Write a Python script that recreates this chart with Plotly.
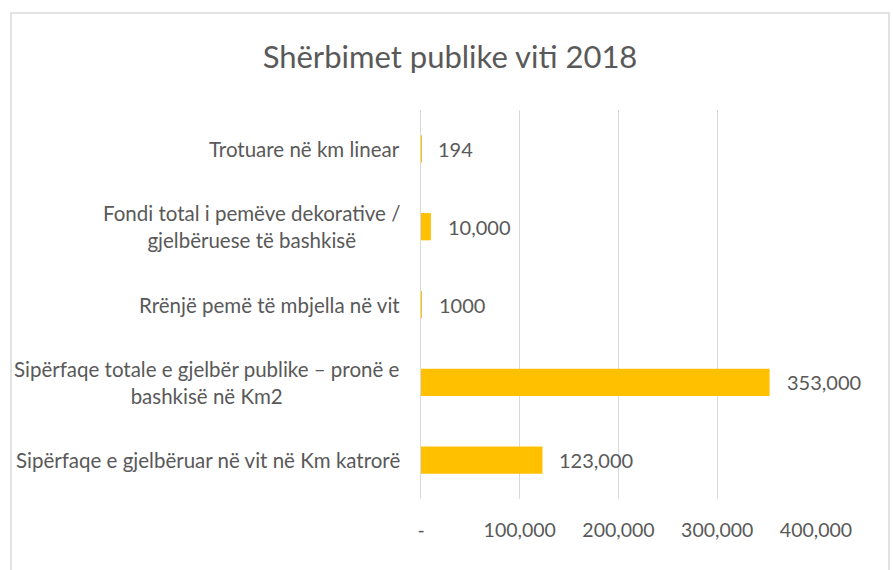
import plotly.graph_objects as go

# ---- data ----
categories = [
    "Trotuare në km linear",
    "Fondi total i pemëve dekorative /<br>gjelbëruese të bashkisë",
    "Rrënjë pemë të mbjella në vit",
    "Sipërfaqe totale e gjelbër publike – pronë e<br>bashkisë në Km2",
    "Sipërfaqe e gjelbëruar në vit në Km katrorë",
]
values = [194, 10000, 1000, 353000, 123000]
value_labels = ["194", "10,000", "1000", "353,000", "123,000"]
tick_values = [0, 100000, 200000, 300000, 400000]
tick_labels = ["-", "100,000", "200,000", "300,000", "400,000"]
title_text = "Shërbimet publike viti 2018"

FONT = "Lato"
GREY = "#595959"
BAR = "#FFC000"
GRID = "#D9D9D9"

W, H = 893, 570
L, R, T, B = 421, 893 - 816, 110, 570 - 499
pw = W - L - R
ph = H - T - B

fig = go.Figure()
fig.add_trace(go.Bar(
    x=values, y=categories, orientation="h",
    marker=dict(color=BAR, line=dict(width=0)),
    hoverinfo="skip",
))

annotations = []
for c in categories:
    annotations.append(dict(
        x=0, xref="paper", y=c, yref="y", xanchor="right", yanchor="middle",
        xshift=-19, text=c, showarrow=False, align="center",
        font=dict(family=FONT, size=20.5, color=GREY),
    ))
for v, lab, c in zip(values, value_labels, categories):
    annotations.append(dict(
        x=v, xref="x", y=c, yref="y", xanchor="left", yanchor="middle",
        xshift=15, text=lab, showarrow=False,
        font=dict(family=FONT, size=20, color=GREY),
    ))

fig.update_layout(
    width=W, height=H, autosize=False,
    margin=dict(l=L, r=R, t=T, b=B, pad=0),
    paper_bgcolor="white", plot_bgcolor="white",
    showlegend=False,
    bargap=0.65,
    title=dict(text=title_text, xref="container", x=450 / W, xanchor="center",
               yref="container", y=1 - 57 / H, yanchor="middle",
               font=dict(family=FONT, size=31, color=GREY)),
    xaxis=dict(range=[0, 400000], tickvals=tick_values, ticktext=tick_labels,
               showgrid=True, gridcolor=GRID, gridwidth=1.3, zeroline=False,
               showline=False, ticks="outside", ticklen=14,
               tickcolor="rgba(0,0,0,0)",
               tickfont=dict(family=FONT, size=19.5, color=GREY), fixedrange=True),
    yaxis=dict(categoryorder="array", categoryarray=categories,
               autorange="reversed", showticklabels=False, showgrid=False,
               zeroline=False, showline=True, linecolor=GRID, linewidth=1.3,
               ticks="", fixedrange=True),
    annotations=annotations,
    shapes=[dict(type="rect", xref="paper", yref="paper",
                 x0=(11 - L) / pw, x1=(889 - L) / pw,
                 y0=-(580 - 499) / ph, y1=1 + (T - 13) / ph,
                 line=dict(color=GRID, width=1.5), layer="below")],
)

fig.write_html("out.html",
               config={"displayModeBar": False},
               post_script="document.body.style.margin='0';document.body.style.padding='0';")
